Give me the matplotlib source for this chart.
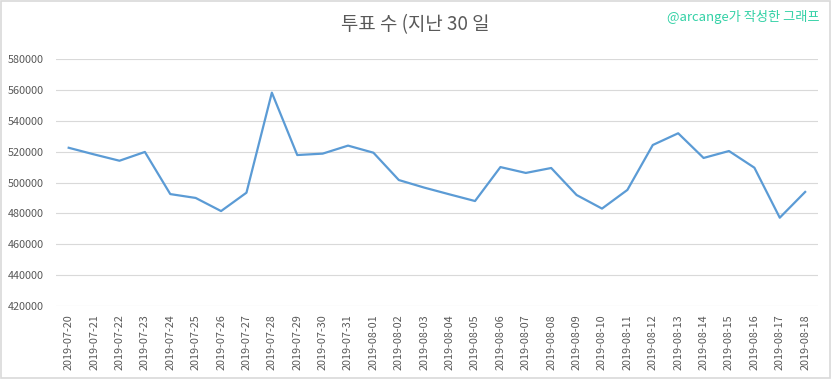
import matplotlib.pyplot as plt
from matplotlib.patches import Rectangle

plt.rcParams['font.family'] = ['Noto Sans CJK KR', 'DejaVu Sans']

# daily vote counts
dates = ['2019-07-20', '2019-07-21', '2019-07-22', '2019-07-23', '2019-07-24',
         '2019-07-25', '2019-07-26', '2019-07-27', '2019-07-28', '2019-07-29',
         '2019-07-30', '2019-07-31', '2019-08-01', '2019-08-02', '2019-08-03',
         '2019-08-04', '2019-08-05', '2019-08-06', '2019-08-07', '2019-08-08',
         '2019-08-09', '2019-08-10', '2019-08-11', '2019-08-12', '2019-08-13',
         '2019-08-14', '2019-08-15', '2019-08-16', '2019-08-17', '2019-08-18']
votes = [522500, 518200, 514100, 519800, 492500,
         490000, 481500, 493400, 558200, 517800,
         518700, 523900, 519300, 501600, 496700,
         492300, 488000, 510000, 506200, 509400,
         491900, 483100, 495200, 524300, 531900,
         515900, 520400, 509600, 477200, 493900]
yticks = list(range(420000, 580001, 20000))

fig = plt.figure(figsize=(8.32, 3.79), dpi=100)
ax = fig.add_axes([0.0673, 0.1926, 0.9157, 0.6517])

x = range(len(dates))
ax.plot(x, votes, color='#5b9bd5', linewidth=1.6, solid_joinstyle='round')

ax.set_xlim(-0.5, len(dates) - 0.5)
ax.set_ylim(420000, 580000)
ax.set_yticks(yticks)
ax.set_yticklabels([str(v) for v in yticks])
ax.set_xticks(list(x))
ax.set_xticklabels(dates, rotation=90)

ax.grid(True, axis='y', color='#d9d9d9', linewidth=0.8)
ax.set_axisbelow(True)
for s in ax.spines.values():
    s.set_visible(False)
ax.tick_params(axis='both', length=0, labelsize=7.8, labelcolor='#595959')
ax.tick_params(axis='x', pad=6)
ax.tick_params(axis='y', pad=9)

fig.text(0.499, 0.934, '투표 수 (지난 30 일', ha='center', va='center',
         fontsize=13.6, color='#595959')
fig.text(0.985, 0.955, '@arcange가 작성한 그래프', ha='right', va='center',
         fontsize=9.5, color='#33d1a6')

fig.patches.append(Rectangle((0.001, 0.003), 0.997, 0.994, transform=fig.transFigure,
                             fill=False, edgecolor='#d9d9d9', linewidth=1.2))

plt.savefig('out.png', dpi=100)
